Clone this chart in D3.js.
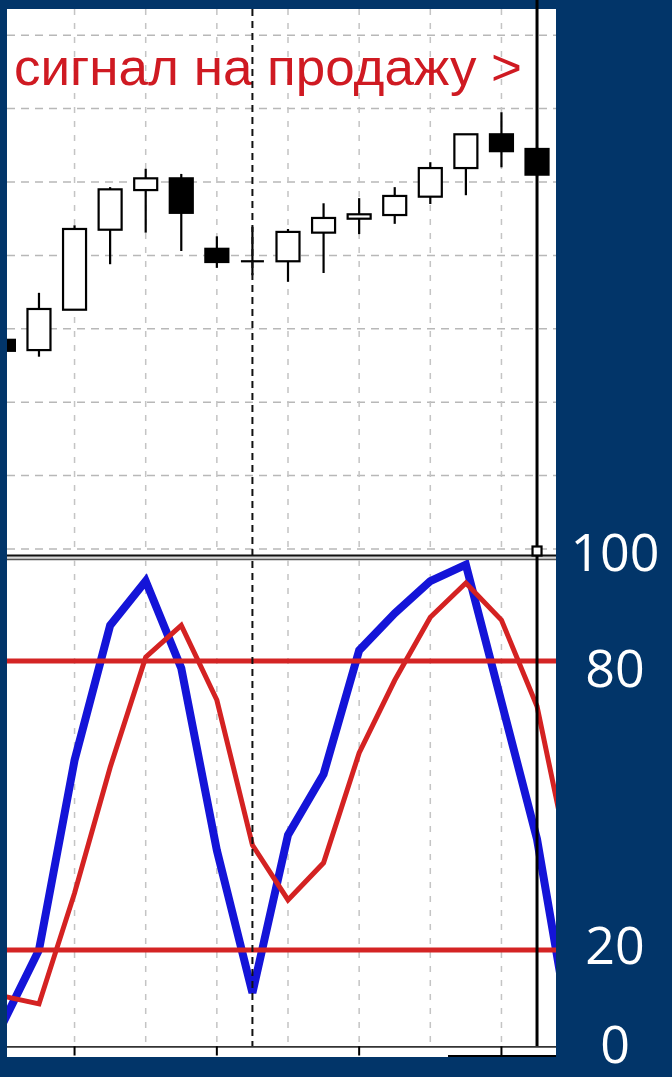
<!DOCTYPE html>
<html>
<head>
<meta charset="utf-8">
<script src="https://cdn.jsdelivr.net/npm/d3@7/dist/d3.min.js"></script>
<style>
  html, body { margin: 0; padding: 0; background: #023569; }
  svg { display: block; }
</style>
</head>
<body>
<svg id="chart" width="672" height="1077"></svg>
<script>
// ---------- data ----------
const candleIndex = [0,1,2,3,4,5,6,7,8,9,10,11,12,13,14,15];
const opens  = [1.30285,1.30271,1.30326,1.30435,1.30489,1.30505,1.30409,1.30392,1.30392,1.30431,1.30450,1.30455,1.30480,1.30519,1.30565,1.30545];
const highs  = [1.30287,1.30349,1.30441,1.30493,1.30518,1.30511,1.30426,1.30439,1.30436,1.30471,1.30478,1.30493,1.30527,1.30565,1.30595,1.30548];
const lows   = [1.30267,1.30262,1.30326,1.30388,1.30431,1.30406,1.30383,1.30373,1.30364,1.30376,1.30429,1.30443,1.30470,1.30482,1.30520,1.30507];
const closes = [1.30270,1.30327,1.30436,1.30490,1.30505,1.30458,1.30391,1.30392,1.30432,1.30451,1.30456,1.30481,1.30519,1.30565,1.30542,1.30510];

const stochIndex = [0,1,2,3,4,5,6,7,8,9,10,11,12,13,14,15,16];
const mainK   = [5,20,59.4,87.4,96.6,78.5,40.7,11.1,43.9,56.5,82.2,89.9,96.6,100,71.5,43,0];
const signalD = [10.4,8.8,31.8,57.9,80.8,87.4,71.9,41.8,30.4,38.1,60.9,76.0,89.1,96.2,88.5,70.6,35.2];

const levels = [80, 20];
const stochLabels = [100, 80, 20, 0];
const priceGrid = [1.3000,1.3010,1.3020,1.3030,1.3040,1.3050,1.3060,1.3070];
const gridIndex = [2,4,6,8,10,12,14];
const tickIndex = [2,6,10,14];
const markerIndex = 7;      // dashed black vertical
const currentIndex = 15;    // solid black vertical
const signalText = "сигнал на продажу >";

// ---------- layout ----------
const svg = d3.select("#chart");
const L = 7, R = 556;
const topPanel = {y0: 9, y1: 555};
const botPanel = {y0: 560, y1: 1057};

const x = d3.scaleLinear().domain([0, 16]).range([3.4, 572.6]);
const yP = d3.scaleLinear().domain([1.3000, 1.3070]).range([549, 35.2]);
const yS = d3.scaleLinear().domain([0, 100]).range([1046.3, 564.7]);
const yLab = d3.scaleLinear().domain([0, 20, 80, 100]).range([1044, 945, 668, 552]);

const defs = svg.append("defs");
defs.append("clipPath").attr("id", "clipTop").append("rect")
  .attr("x", L).attr("y", topPanel.y0).attr("width", R - L).attr("height", topPanel.y1 - topPanel.y0);
defs.append("clipPath").attr("id", "clipBot").append("rect")
  .attr("x", L).attr("y", botPanel.y0).attr("width", R - L).attr("height", botPanel.y1 - botPanel.y0);

// panel backgrounds
svg.append("rect").attr("x", L).attr("y", topPanel.y0).attr("width", R - L)
  .attr("height", topPanel.y1 - topPanel.y0).attr("fill", "#ffffff");
svg.append("rect").attr("x", L).attr("y", botPanel.y0).attr("width", R - L)
  .attr("height", botPanel.y1 - botPanel.y0).attr("fill", "#ffffff");
// divider (double line)
svg.append("rect").attr("x", L).attr("y", 555).attr("width", R - L).attr("height", 5).attr("fill", "#d8d8d8");
svg.append("line").attr("x1", L).attr("x2", R).attr("y1", 555.5).attr("y2", 555.5)
  .attr("stroke", "#111").attr("stroke-width", 1.8);
svg.append("line").attr("x1", L).attr("x2", R).attr("y1", 559.5).attr("y2", 559.5)
  .attr("stroke", "#555").attr("stroke-width", 1.5);

// ---------- top panel ----------
const gTop = svg.append("g").attr("clip-path", "url(#clipTop)");

gTop.selectAll(".hgrid").data(priceGrid).join("line")
  .attr("x1", L).attr("x2", R)
  .attr("y1", d => yP(d)).attr("y2", d => yP(d))
  .attr("stroke", "#b8b8b8").attr("stroke-width", 1.5).attr("stroke-dasharray", "8,6");

gTop.selectAll(".vgrid").data(gridIndex).join("line")
  .attr("x1", d => x(d)).attr("x2", d => x(d))
  .attr("y1", topPanel.y0).attr("y2", topPanel.y1)
  .attr("stroke", "#c4c4c4").attr("stroke-width", 1.5).attr("stroke-dasharray", "6,8");

gTop.append("text")
  .attr("x", 14).attr("y", 85)
  .attr("font-family", "Liberation Sans, Arial, sans-serif")
  .attr("font-size", 52)
  .attr("textLength", 508).attr("lengthAdjust", "spacingAndGlyphs")
  .attr("fill", "#cf1a22")
  .text(signalText);

// candles
const candles = candleIndex.map(i => ({i, o: opens[i], h: highs[i], l: lows[i], c: closes[i]}));
const bw = 23;
const cg = gTop.selectAll(".candle").data(candles).join("g");
cg.append("line")
  .attr("x1", d => x(d.i)).attr("x2", d => x(d.i))
  .attr("y1", d => yP(d.h)).attr("y2", d => yP(d.l))
  .attr("stroke", "#000").attr("stroke-width", 2.2);
cg.filter(d => d.o !== d.c).append("rect")
  .attr("x", d => x(d.i) - bw / 2)
  .attr("y", d => yP(Math.max(d.o, d.c)))
  .attr("width", bw)
  .attr("height", d => yP(Math.min(d.o, d.c)) - yP(Math.max(d.o, d.c)))
  .attr("fill", d => d.c > d.o ? "#ffffff" : "#000000")
  .attr("stroke", "#000").attr("stroke-width", 2.2);
cg.filter(d => d.o === d.c).append("line")
  .attr("x1", d => x(d.i) - bw / 2).attr("x2", d => x(d.i) + bw / 2)
  .attr("y1", d => yP(d.o)).attr("y2", d => yP(d.o))
  .attr("stroke", "#000").attr("stroke-width", 2.2);

// ---------- bottom panel ----------
const gBot = svg.append("g").attr("clip-path", "url(#clipBot)");

gBot.selectAll(".vgrid2").data(gridIndex).join("line")
  .attr("x1", d => x(d)).attr("x2", d => x(d))
  .attr("y1", botPanel.y0).attr("y2", yS(0))
  .attr("stroke", "#c4c4c4").attr("stroke-width", 1.5).attr("stroke-dasharray", "6,8");

const line = d3.line().x((d, i) => x(stochIndex[i])).y(d => yS(d));

gBot.append("path").datum(mainK)
  .attr("d", line).attr("fill", "none")
  .attr("stroke", "#1414d8").attr("stroke-width", 8).attr("stroke-linejoin", "miter");

// current bar vertical
svg.append("line")
  .attr("x1", x(currentIndex)).attr("x2", x(currentIndex))
  .attr("y1", 0).attr("y2", yS(0))
  .attr("stroke", "#000").attr("stroke-width", 3);

gBot.append("path").datum(signalD)
  .attr("d", line).attr("fill", "none")
  .attr("stroke", "#d42222").attr("stroke-width", 5).attr("stroke-linejoin", "miter");

gBot.selectAll(".level").data(levels).join("line")
  .attr("x1", L).attr("x2", R)
  .attr("y1", d => yS(d)).attr("y2", d => yS(d))
  .attr("stroke", "#d42424").attr("stroke-width", 5);

// marker dashed vertical
svg.append("line")
  .attr("x1", x(markerIndex)).attr("x2", x(markerIndex))
  .attr("y1", topPanel.y0).attr("y2", yS(0))
  .attr("stroke", "#111").attr("stroke-width", 2).attr("stroke-dasharray", "7,5");

// bottom axis
svg.append("line").attr("x1", L).attr("x2", R).attr("y1", yS(0) + 0.5).attr("y2", yS(0) + 0.5)
  .attr("stroke", "#333").attr("stroke-width", 1.8);
svg.selectAll(".tick").data(tickIndex).join("line")
  .attr("x1", d => x(d)).attr("x2", d => x(d))
  .attr("y1", yS(0)).attr("y2", 1055.5)
  .attr("stroke", "#000").attr("stroke-width", 2);
svg.append("line").attr("x1", 448).attr("x2", R).attr("y1", 1056).attr("y2", 1056)
  .attr("stroke", "#000").attr("stroke-width", 2);

// small square marker
svg.append("rect")
  .attr("x", x(currentIndex) - 4.5).attr("y", 546.5).attr("width", 9).attr("height", 9)
  .attr("fill", "#fff").attr("stroke", "#000").attr("stroke-width", 2.2);

// right-side labels
svg.selectAll(".lab").data(stochLabels).join("text")
  .attr("x", 615)
  .attr("y", d => yLab(d) + 19)
  .attr("text-anchor", "middle")
  .attr("font-family", "Open Sans, Lato, sans-serif")
  .attr("font-size", 52)
  .attr("fill", "#ffffff")
  .text(d => d);
</script>
</body>
</html>
